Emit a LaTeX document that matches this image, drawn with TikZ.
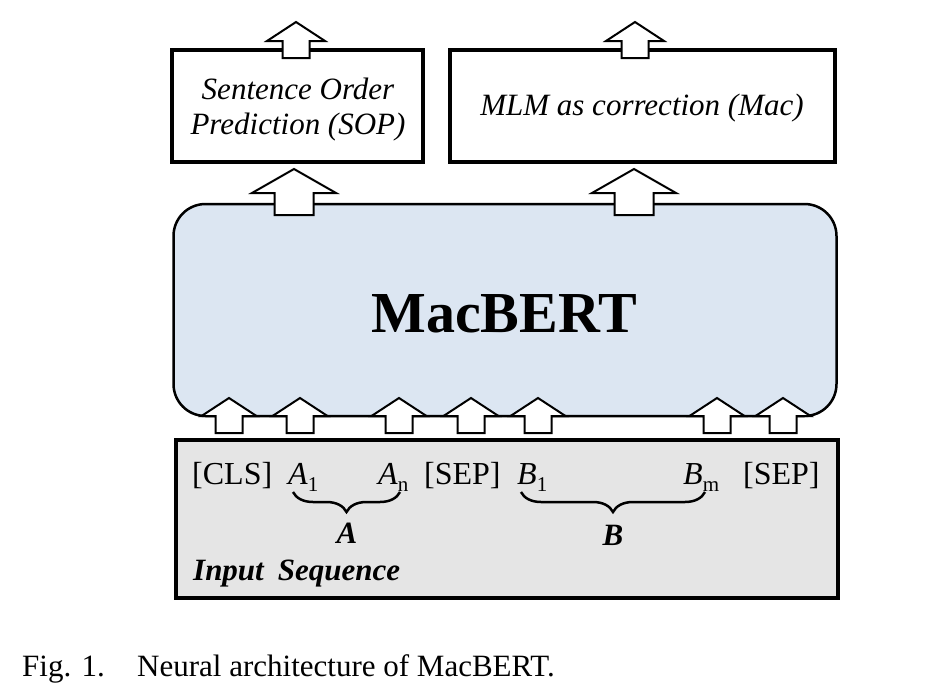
\documentclass[tikz,border=0pt]{standalone}
\usepackage{fontspec}
\setmainfont{Liberation Serif}
\usetikzlibrary{decorations.pathreplacing}
\definecolor{macblue}{RGB}{220,230,242}
\definecolor{inputgray}{RGB}{229,229,229}
\newcommand\blkup[6]{%
  \draw[blkarrow] (#1,#2) -- ({#1+#3},{#2+#5}) -- ({#1+#4},{#2+#5}) -- ({#1+#4},{#2+#6})
   -- ({#1-#4},{#2+#6}) -- ({#1-#4},{#2+#5}) -- ({#1-#3},{#2+#5}) -- cycle;}
\newcommand\topar[1]{\blkup{#1}{22}{29}{13.5}{19}{36}}
\newcommand\midar[1]{\blkup{#1}{169}{42}{19.5}{24}{46}}
\newcommand\botar[1]{\blkup{#1}{398}{27.5}{13.5}{18}{35}}
\newcommand\tsub[2]{\textit{#1}\raisebox{-7pt}{\fontsize{21}{21}\selectfont #2}}
\tikzset{
  blkarrow/.style={draw=black, fill=white, line width=2pt, line join=miter},
  taskbox/.style={draw=black, fill=white, line width=4pt, inner sep=0pt},
  tasktext/.style={inner sep=0pt, align=center, font=\fontsize{31}{35}\selectfont\itshape},
  encbox/.style={draw=black, fill=macblue, line width=2.5pt, rounded corners=32pt, inner sep=0pt},
  inbox/.style={draw=black, fill=inputgray, line width=4pt, inner sep=0pt},
  tok/.style={inner sep=0pt, font=\fontsize{32}{36}\selectfont},
  seglabel/.style={inner sep=0pt, font=\fontsize{31}{34}\selectfont\bfseries\itshape},
  bracestyle/.style={line width=2.5pt, decorate, decoration={brace, mirror, amplitude=20pt}},
  captext/.style={inner sep=0pt, font=\fontsize{31}{35}\selectfont},
}
\begin{document}
\begin{tikzpicture}[x=1pt,y=-1pt]
\useasboundingbox (0,0) rectangle (951,697);
% task boxes
\node[taskbox, minimum width=251pt, minimum height=112pt] (sop) at (297.5,106) {};
\node[tasktext] (soptext) at (298,110) {Sentence Order\\Prediction (SOP)};
\node[taskbox, minimum width=385pt, minimum height=112pt] (mac) at (642.5,106) {};
\node[tasktext] (mactext) at (642,108) {MLM as correction (Mac)};
\topar{296}
\topar{635}
% encoder
\node[encbox, minimum width=663pt, minimum height=212pt] (enc) at (505,310) {};
\node[inner sep=0pt, font=\fontsize{58}{60}\selectfont\bfseries, anchor=base] (mb) at (504,332) {MacBERT};
\midar{294}
\midar{634}
% input
\node[inbox, minimum width=662pt, minimum height=158pt] (inp) at (507,519) {};
\foreach \x in {229,300,399,471,538,717,783} {\botar{\x}}
\node[tok, anchor=base west] (cls) at (192,484) {[CLS]};
\node[tok, anchor=base west] (a1) at (288,484) {\tsub{A}{1}};
\node[tok, anchor=base west] (an) at (378,484) {\tsub{A}{n}};
\node[tok, anchor=base west] (sep1) at (424,484) {[SEP]};
\node[tok, anchor=base west] (b1) at (517,484) {\tsub{B}{1}};
\node[tok, anchor=base west] (bm) at (683,484) {\tsub{B}{m}};
\node[tok, anchor=base west] (sep2) at (743,484) {[SEP]};
\coordinate (braLs) at (293,492);
\coordinate (braLe) at (400,492);
\coordinate (braRs) at (521,492);
\coordinate (braRe) at (705,492);
\draw[bracestyle] (braLs) -- (braLe);
\draw[bracestyle] (braRs) -- (braRe);
\node[seglabel, anchor=base] (labA) at (347,543) {A};
\node[seglabel, anchor=base] (labB) at (613,545) {B};
\node[inner sep=0pt, font=\fontsize{31}{35}\selectfont\bfseries\itshape, anchor=base west] (inseq) at (193,580) {Input\hspace{0.45em}Sequence};
% caption
\node[captext, anchor=base west] (fig) at (22,676) {Fig. 1.};
\node[captext, anchor=base west] (cap) at (137,676) {Neural architecture of MacBERT.};
\end{tikzpicture}
\end{document}
